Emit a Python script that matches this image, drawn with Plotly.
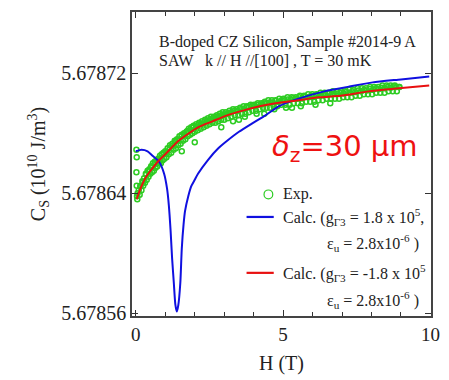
import plotly.graph_objects as go

# ---- data (H in T, C_S in 10^10 J/m^3) ----
exp_H = [0.02, 0.03, 0.02, 0.03, 0.04, 0.05, 0.06,
         0.10, 0.13, 0.16, 0.19, 0.22, 0.25, 0.28, 0.31, 0.34, 0.37, 0.40, 0.43, 0.46, 0.49,
         0.52, 0.55, 0.58, 0.61, 0.64, 0.67, 0.70, 0.73, 0.76, 0.79, 0.82, 0.85, 0.88, 0.91,
         0.94, 0.97, 1.00, 1.04, 1.08, 1.12, 1.16, 1.20, 1.24, 1.28, 1.32, 1.36, 1.40, 1.44,
         1.48, 1.52, 1.56, 1.60, 1.64, 1.68, 1.72, 1.76, 1.80, 1.84, 1.88, 1.92, 1.96, 2.00,
         2.05, 2.10, 2.15, 2.20, 2.25, 2.30, 2.35, 2.40, 2.45, 2.50, 2.55, 2.60, 2.65, 2.70,
         2.75, 2.80, 2.85, 2.90, 2.95, 3.00, 3.06, 3.12, 3.18, 3.24, 3.30, 3.36, 3.42, 3.48,
         3.54, 3.60, 3.66, 3.72, 3.78, 3.84, 3.90, 3.96, 4.02, 4.08, 4.14, 4.20, 4.26, 4.32,
         4.38, 4.44, 4.50, 4.56, 4.62, 4.68, 4.74, 4.80, 4.87, 4.94, 5.01, 5.08, 5.15, 5.22,
         5.29, 5.36, 5.43, 5.50, 5.57, 5.64, 5.71, 5.78, 5.85, 5.92, 5.99, 6.06, 6.13, 6.20,
         6.27, 6.34, 6.41, 6.48, 6.55, 6.62, 6.69, 6.76, 6.83, 6.90, 6.97, 7.04, 7.11, 7.18,
         7.25, 7.32, 7.39, 7.46, 7.53, 7.60, 7.67, 7.74, 7.81, 7.88, 7.95, 8.02, 8.09, 8.16,
         8.23, 8.30, 8.37, 8.44, 8.51, 8.58, 8.65, 8.72, 8.79, 8.86, 8.93,
         1.56, 2.00, 2.90, 3.30, 3.50, 3.70, 4.10, 4.36, 4.70, 5.10, 5.30, 5.60, 6.10, 6.60]
exp_C = [5.678669, 5.678664, 5.678654, 5.678645, 5.678638, 5.678636, 5.678640,
         5.678642, 5.678639, 5.678645, 5.678642, 5.678648, 5.678645, 5.678650, 5.678647, 5.678653, 5.678649, 5.678655, 5.678651, 5.678656, 5.678653,
         5.678658, 5.678654, 5.678660, 5.678655, 5.678661, 5.678657, 5.678662, 5.678658, 5.678663, 5.678660, 5.678665, 5.678660, 5.678666, 5.678662,
         5.678667, 5.678663, 5.678668, 5.678664, 5.678670, 5.678666, 5.678672, 5.678667, 5.678673, 5.678669, 5.678675, 5.678670, 5.678676, 5.678672,
         5.678678, 5.678673, 5.678679, 5.678675, 5.678680, 5.678676, 5.678681, 5.678678, 5.678683, 5.678679, 5.678684, 5.678680, 5.678685, 5.678681,
         5.678686, 5.678682, 5.678687, 5.678683, 5.678688, 5.678684, 5.678689, 5.678685, 5.678690, 5.678686, 5.678691, 5.678687, 5.678691, 5.678687,
         5.678692, 5.678688, 5.678693, 5.678689, 5.678694, 5.678689, 5.678694, 5.678690, 5.678695, 5.678691, 5.678696, 5.678692, 5.678696, 5.678692,
         5.678697, 5.678693, 5.678698, 5.678693, 5.678698, 5.678694, 5.678699, 5.678695, 5.678699, 5.678695, 5.678700, 5.678696, 5.678700, 5.678697,
         5.678701, 5.678697, 5.678702, 5.678697, 5.678702, 5.678698, 5.678702, 5.678698, 5.678703, 5.678699, 5.678703, 5.678699, 5.678704, 5.678699,
         5.678704, 5.678700, 5.678704, 5.678700, 5.678705, 5.678700, 5.678705, 5.678701, 5.678706, 5.678701, 5.678706, 5.678701, 5.678706, 5.678702,
         5.678707, 5.678702, 5.678707, 5.678703, 5.678707, 5.678703, 5.678708, 5.678703, 5.678708, 5.678703, 5.678708, 5.678704, 5.678708, 5.678704,
         5.678709, 5.678704, 5.678709, 5.678705, 5.678710, 5.678705, 5.678710, 5.678706, 5.678710, 5.678706, 5.678711, 5.678706, 5.678711, 5.678707,
         5.678711, 5.678707, 5.678712, 5.678707, 5.678712, 5.678708, 5.678712, 5.678708, 5.678712, 5.678708, 5.678711,
         5.678668, 5.678674, 5.678684, 5.678688, 5.678689, 5.678691, 5.678693, 5.678693, 5.678696, 5.678697, 5.678697, 5.678698, 5.678699, 5.678700]

# middle row of the dense experimental band
exp_H_mid = [0.15, 0.25, 0.35, 0.45, 0.55, 0.65, 0.75, 0.85, 0.95, 1.05, 1.15, 1.25, 1.35, 1.45,
             1.55, 1.65, 1.75, 1.85, 1.95, 2.05, 2.15, 2.25, 2.35, 2.45, 2.55, 2.65, 2.75, 2.85,
             2.95, 3.05, 3.15, 3.25, 3.35, 3.45, 3.55, 3.65, 3.75, 3.85, 3.95, 4.05, 4.15, 4.25,
             4.35, 4.45, 4.55, 4.65, 4.75, 4.85, 4.95, 5.05, 5.15, 5.25, 5.35, 5.45, 5.55, 5.65,
             5.75, 5.85, 5.95, 6.05, 6.15, 6.25, 6.35, 6.45, 6.55, 6.65, 6.75, 6.85, 6.95, 7.05,
             7.15, 7.25, 7.35, 7.45, 7.55, 7.65, 7.75, 7.85, 7.95, 8.05, 8.15, 8.25, 8.35, 8.45,
             8.55, 8.65, 8.75, 8.85, 8.95]
exp_C_mid = [5.6786445, 5.6786475, 5.6786525, 5.6786545, 5.6786575, 5.6786595, 5.6786625, 5.6786635,
             5.6786665, 5.6786675, 5.6786705, 5.6786715, 5.6786745, 5.6786755, 5.6786780, 5.6786790,
             5.6786815, 5.6786820, 5.6786840, 5.6786845, 5.6786860, 5.6786865, 5.6786880, 5.6786885,
             5.6786895, 5.6786900, 5.6786910, 5.6786915, 5.6786925, 5.6786925, 5.6786935, 5.6786940,
             5.6786950, 5.6786950, 5.6786960, 5.6786960, 5.6786975, 5.6786975, 5.6786985, 5.6786980,
             5.6786990, 5.6786990, 5.6787000, 5.6787000, 5.6787005, 5.6787005, 5.6787015, 5.6787010,
             5.6787020, 5.6787020, 5.6787025, 5.6787025, 5.6787035, 5.6787030, 5.6787040, 5.6787035,
             5.6787045, 5.6787040, 5.6787050, 5.6787045, 5.6787055, 5.6787050, 5.6787060, 5.6787055,
             5.6787065, 5.6787060, 5.6787065, 5.6787065, 5.6787070, 5.6787065, 5.6787075, 5.6787070,
             5.6787080, 5.6787075, 5.6787085, 5.6787080, 5.6787090, 5.6787085, 5.6787095, 5.6787090,
             5.6787100, 5.6787095, 5.6787105, 5.6787100, 5.6787110, 5.6787105, 5.6787115, 5.6787110,
             5.6787110]

calc_pos_H = [0.00, 0.19, 0.40, 0.57, 0.79, 0.96, 1.06, 1.12, 1.18, 1.23, 1.29, 1.34, 1.39,
              1.44, 1.51, 1.56, 1.62, 1.67, 1.78, 1.89, 2.00, 2.11, 2.44, 2.80, 3.10, 3.50,
              3.90, 4.40, 4.85, 5.50, 6.40, 7.20, 8.04, 9.00, 9.96]
calc_pos_C = [5.678668, 5.678669, 5.678668, 5.678665, 5.678661, 5.678653, 5.678643, 5.678632,
              5.678615, 5.678597, 5.678580, 5.678566, 5.678561, 5.678565, 5.678580, 5.678603,
              5.678619, 5.678628, 5.678638, 5.678645, 5.678649, 5.678653, 5.678662, 5.678670,
              5.678675, 5.678681, 5.678686, 5.678692, 5.678698, 5.678703, 5.678708, 5.678711,
              5.678714, 5.678716, 5.678718]

calc_neg_H = [0.03, 0.10, 0.20, 0.35, 0.50, 0.79, 1.00, 1.45, 2.11, 2.60, 3.10, 3.60, 4.20,
              4.75, 5.50, 6.20, 6.95, 7.90, 8.93, 9.96]
calc_neg_C = [5.678636, 5.678640, 5.678645, 5.678651, 5.678655, 5.678662, 5.678666, 5.678675,
              5.678684, 5.678688, 5.678692, 5.678695, 5.678698, 5.678700, 5.678702, 5.678704,
              5.678705, 5.678708, 5.678710, 5.678712]

y_ticks = [5.67856, 5.67864, 5.67872]
x_ticks = [0, 5, 10]

SERIF = "Liberation Serif"
BLUE = "#1010e0"
RED = "#e81010"
GREEN = "#2dcc22"

fig = go.Figure()
for hx, cy in ((exp_H, exp_C), (exp_H_mid, exp_C_mid)):
    fig.add_trace(go.Scatter(x=hx, y=cy, mode="markers",
                             marker=dict(symbol="circle-open", size=5, color=GREEN,
                                         line=dict(width=1.5, color=GREEN)),
                             showlegend=False))
fig.add_trace(go.Scatter(x=calc_pos_H, y=calc_pos_C, mode="lines",
                         line=dict(color=BLUE, width=2, shape="spline", smoothing=0.6), showlegend=False))
fig.add_trace(go.Scatter(x=calc_neg_H, y=calc_neg_C, mode="lines",
                         line=dict(color=RED, width=2, shape="spline", smoothing=0.6), showlegend=False))

L, R, T, B = 132, 9, 12, 58
W, Hh = 449, 380
pw, ph = W - L - R, Hh - T - B


def px(xp):
    return (xp - L) / pw


def py(yp):
    return (Hh - B - yp) / ph


fig.update_layout(
    width=W, height=Hh,
    margin=dict(l=L, r=R, t=T, b=B),
    paper_bgcolor="white", plot_bgcolor="white",
    font=dict(family=SERIF, color="#222", size=18),
    xaxis=dict(range=[-0.13, 10.02], tickvals=x_ticks, ticks="inside", ticklen=6, tickwidth=1.3,
               tickcolor="#333", showline=True, linecolor="#444", linewidth=1.5, mirror="allticks",
               showgrid=False, zeroline=False,
               minor=dict(dtick=1, ticks="inside", ticklen=4, tickcolor="#333", tickwidth=1, showgrid=False),
               tickfont=dict(family=SERIF, size=19, color="#222"),
               title=dict(text="H (T)", font=dict(family=SERIF, size=20, color="#222"), standoff=12)),
    yaxis=dict(range=[5.678558, 5.678761], tickvals=y_ticks, ticktext=[f"{v:.5f}" for v in y_ticks],
               ticks="inside", ticklen=6, tickwidth=1.3, tickcolor="#333",
               showline=True, linecolor="#444", linewidth=1.5, mirror="allticks",
               showgrid=False, zeroline=False,
               tickfont=dict(family=SERIF, size=20, color="#222"),
               title=dict(text="C<sub>S</sub> (10<sup>10</sup> J/m<sup>3</sup>)",
                          font=dict(family=SERIF, size=20, color="#222"), standoff=10)),
)

ann = []
ann.append(dict(x=px(158), y=py(43), text="B-doped CZ Silicon, Sample #2014-9 A", xanchor="left", yanchor="middle",
                font=dict(family=SERIF, size=16, color="#222")))
ann.append(dict(x=px(158), y=py(61), text="SAW   k // H //[100] , T = 30 mK", xanchor="left", yanchor="middle",
                font=dict(family=SERIF, size=16, color="#222")))
ann.append(dict(x=px(429), y=py(151), text="<i>δ</i><sub>z</sub>=30 μm", xanchor="right", yanchor="middle",
                font=dict(family="DejaVu Sans", size=29, color="#ee1111")))
ann.append(dict(x=px(285), y=py(198), text="Exp.", xanchor="left", yanchor="middle",
                font=dict(family=SERIF, size=16, color="#222")))
ann.append(dict(x=px(285), y=py(221), text="Calc. (g<sub>Γ3</sub> = 1.8 x 10<sup>5</sup>,", xanchor="left",
                yanchor="middle", font=dict(family=SERIF, size=16, color="#222")))
ann.append(dict(x=px(430), y=py(248), text="ε<sub>u</sub> = 2.8x10<sup>-6</sup> )", xanchor="right",
                yanchor="middle", font=dict(family=SERIF, size=16, color="#222")))
ann.append(dict(x=px(285), y=py(278), text="Calc. (g<sub>Γ3</sub> = -1.8 x 10<sup>5</sup>", xanchor="left",
                yanchor="middle", font=dict(family=SERIF, size=16, color="#222")))
ann.append(dict(x=px(430), y=py(306), text="ε<sub>u</sub> = 2.8x10<sup>-6</sup> )", xanchor="right",
                yanchor="middle", font=dict(family=SERIF, size=16, color="#222")))
for a in ann:
    a.update(xref="paper", yref="paper", showarrow=False)
fig.update_layout(annotations=ann)

shapes = [
    dict(type="circle", xref="paper", yref="paper", x0=px(268), x1=px(277), y0=py(202.5), y1=py(193.5),
         line=dict(color=GREEN, width=1.2)),
    dict(type="line", xref="paper", yref="paper", x0=px(250), x1=px(278), y0=py(221), y1=py(221),
         line=dict(color=BLUE, width=2.2)),
    dict(type="line", xref="paper", yref="paper", x0=px(250), x1=px(278), y0=py(278), y1=py(278),
         line=dict(color=RED, width=2.2)),
]
fig.update_layout(shapes=shapes)

fig.write_html("out.html")
